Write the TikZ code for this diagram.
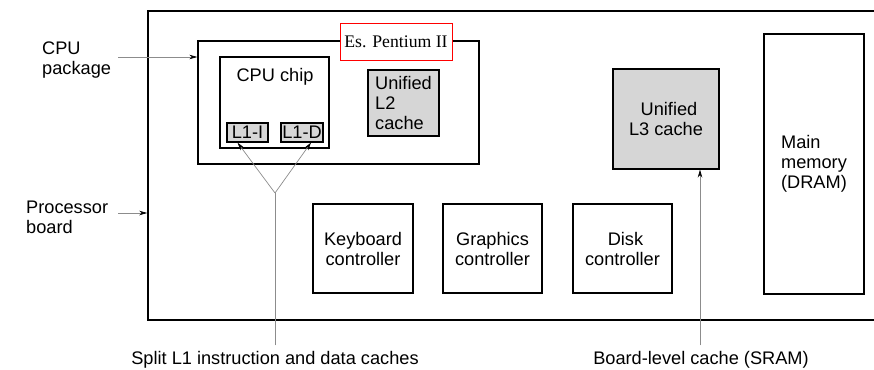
\documentclass[tikz,border=0pt]{standalone}
\usepackage{fontspec}
\setmainfont{Liberation Sans}
\newfontfamily\serifrm{Liberation Serif}
\usetikzlibrary{arrows.meta,calc}
\definecolor{boxgray}{gray}{0.84}
\definecolor{linegray}{gray}{0.55}
\begin{document}
\begin{tikzpicture}[x=1pt,y=-1pt,
  txt/.style={font=\fontsize{18.2}{20}\selectfont, inner sep=0pt, align=center},
  boxa/.style={draw, line width=1.1pt, inner sep=0pt, font=\fontsize{18.2}{20}\selectfont, align=center},
  cache/.style={boxa, fill=boxgray},
  arr/.style={draw=linegray, line width=0.7pt, -{Stealth[length=8pt,width=4.5pt,black]}},
  plain/.style={draw=linegray, line width=0.7pt}]
\useasboundingbox (0,0) rectangle (874,369);
% processor board
\node[draw, line width=1.6pt, minimum width=728pt, minimum height=309pt] (board) at (512,165.5) {};
% CPU package
\node[boxa, line width=1.4pt, minimum width=281pt, minimum height=123pt] (pkg) at (338.5,102.5) {};
\node[draw=red, line width=0.9pt, fill=white, minimum width=112pt, minimum height=37pt, inner sep=0pt,
  font=\serifrm\fontsize{17.7}{20}\selectfont] (es) at (396,41.5) {Es. Pentium II};
% CPU chip
\node[boxa, minimum width=109pt, minimum height=91pt] (chip) at (274.5,102.5) {};
\node[txt] (chiplbl) at (275,77) {CPU chip};
\node[cache, minimum width=41pt, minimum height=19pt] (L1I) at (247.5,132.5) {L1-I};
\node[cache, minimum width=42pt, minimum height=19pt] (L1D) at (302,132.5) {L1-D};
% L2
\node[cache, align=left, minimum width=71pt, minimum height=66pt] (L2) at (403.5,103) {Unified\\L2\\cache};
% L3
\node[cache, minimum width=106pt, minimum height=100pt] (L3) at (666,119) {\hspace*{6pt}Unified\\L3 cache};
% main memory
\node[boxa, align=left, minimum width=100pt, minimum height=260pt] (mem) at (814,164) {Main\\memory\\(DRAM)};
% controllers
\node[boxa, minimum width=100pt, minimum height=89pt] (kb) at (363,248.5) {Keyboard\\controller};
\node[boxa, minimum width=99pt, minimum height=89pt] (gr) at (492.5,248.5) {Graphics\\controller};
\node[boxa, minimum width=99pt, minimum height=89pt] (disk) at (622.5,248.5) {\hspace*{6pt}Disk\\controller};
% outside labels
\node[txt, align=left, anchor=west] (cpulbl) at (42,60) {CPU\\package};
\node[txt, align=left, anchor=west] (pblbl) at (26,217) {Processor\\board};
\node[txt] (splitlbl) at (275,360) {Split L1 instruction and data caches};
\node[txt] (bllbl) at (701,360) {Board-level cache (SRAM)};
% connectors
\coordinate (pkgarrow) at (118,57);
\draw[arr] (pkgarrow) -- (pkgarrow -| pkg.west);
\coordinate (pbarrow) at (118,213);
\draw[arr] (pbarrow) -- (pbarrow -| board.west);
\coordinate (fork) at (275,193);
\draw[plain] ($(splitlbl.north)+(0,-6)$) -- (fork);
\draw[arr] (fork) -- ($(L1I.south)+(-10,0)$);
\draw[arr] (fork) -- ($(L1D.south)+(9,0)$);
\coordinate (blstart) at ($(bllbl.north)+(-1,-6)$);
\draw[arr] (blstart) -- (blstart |- L3.south);
\end{tikzpicture}
\end{document}
